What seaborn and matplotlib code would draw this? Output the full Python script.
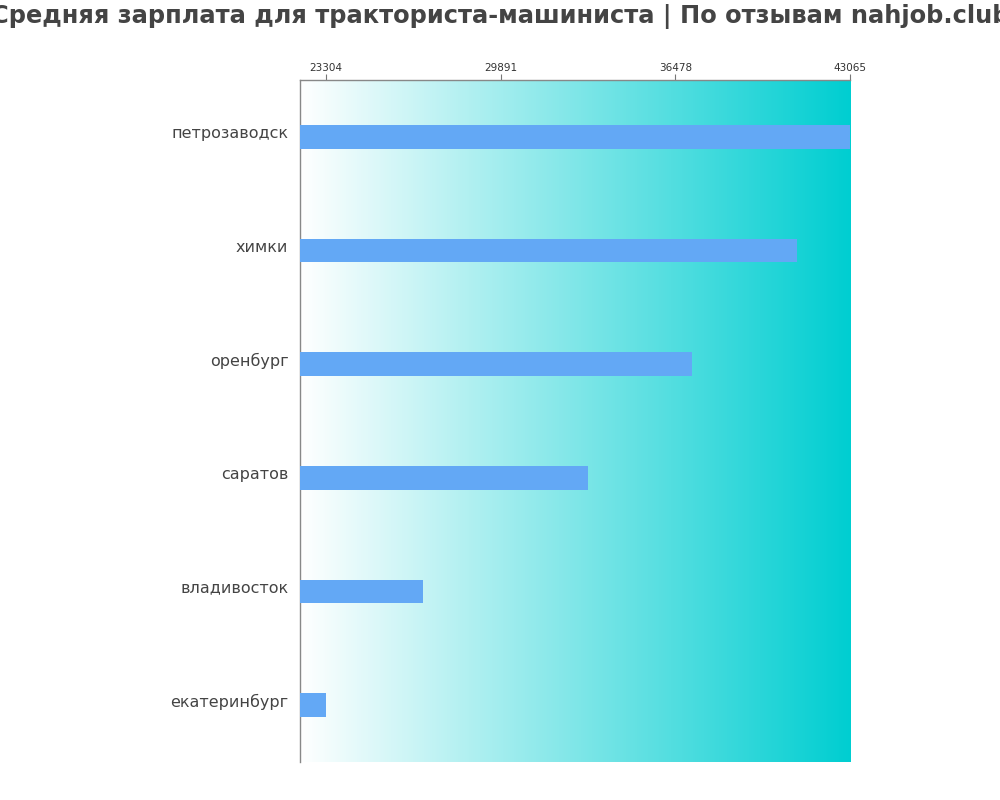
import numpy as np
import pandas as pd
import matplotlib
matplotlib.use("Agg")
import matplotlib.pyplot as plt
import matplotlib.transforms as mtransforms
import seaborn as sns
from matplotlib.colors import LinearSegmentedColormap

cities = ["петрозаводск", "химки", "оренбург", "саратов", "владивосток", "екатеринбург"]
salaries = [43065, 41070, 37120, 33170, 26960, 23304]
tick_values = [23304, 29891, 36478, 43065]

df = pd.DataFrame({"city": cities, "salary": salaries})

sns.set_style("white")
plt.rcParams["font.family"] = ["DejaVu Sans"]

fig = plt.figure(figsize=(10, 8), dpi=100)
ax = fig.add_axes([0.3, 0.0475, 0.55, 0.8525])

sns.barplot(data=df, y="city", x="salary", orient="h", color="#63a8f5",
            width=0.21, saturation=1, linewidth=0, ax=ax, zorder=3)

lo = min(salaries) - (max(salaries) - min(salaries)) * 0.05
hi = max(salaries)
ax.set_xlim(lo, hi)
ax.set_ylim(5.5, -0.5)

# fond en dégradé blanc -> turquoise
cmap = LinearSegmentedColormap.from_list("bg", ["#ffffff", "#00ced1"])
grad = np.linspace(0, 1, 256).reshape(1, -1)
ax.imshow(grad, cmap=cmap, aspect="auto", extent=[lo, hi, 5.5, -0.5], zorder=0)

ax.xaxis.tick_top()
ax.set_xticks(tick_values)
ax.set_xticklabels([str(v) for v in tick_values], fontsize=7.5, color="#333333")
ax.tick_params(axis="x", length=4, color="#777777", pad=1)
ax.tick_params(axis="y", length=0, labelsize=11.5, labelcolor="#444444", pad=12)
ax.set_xlabel("")
ax.set_ylabel("")

# étiquettes des villes un peu au-dessus du centre des barres, plus près de l'axe
offset = mtransforms.ScaledTranslation(0.05, 0.05, fig.dpi_scale_trans)
for lab in ax.get_yticklabels():
    lab.set_transform(lab.get_transform() + offset)

for s in ["bottom", "right"]:
    ax.spines[s].set_visible(False)
for s in ["top", "left"]:
    ax.spines[s].set_color("#888888")
    ax.spines[s].set_linewidth(1)

fig.suptitle("Средняя зарплата для тракториста-машиниста | По отзывам nahjob.club",
             x=0.5, y=0.995, fontsize=17.4, fontweight="bold", color="#444444")

fig.savefig("out.png", dpi=100)
